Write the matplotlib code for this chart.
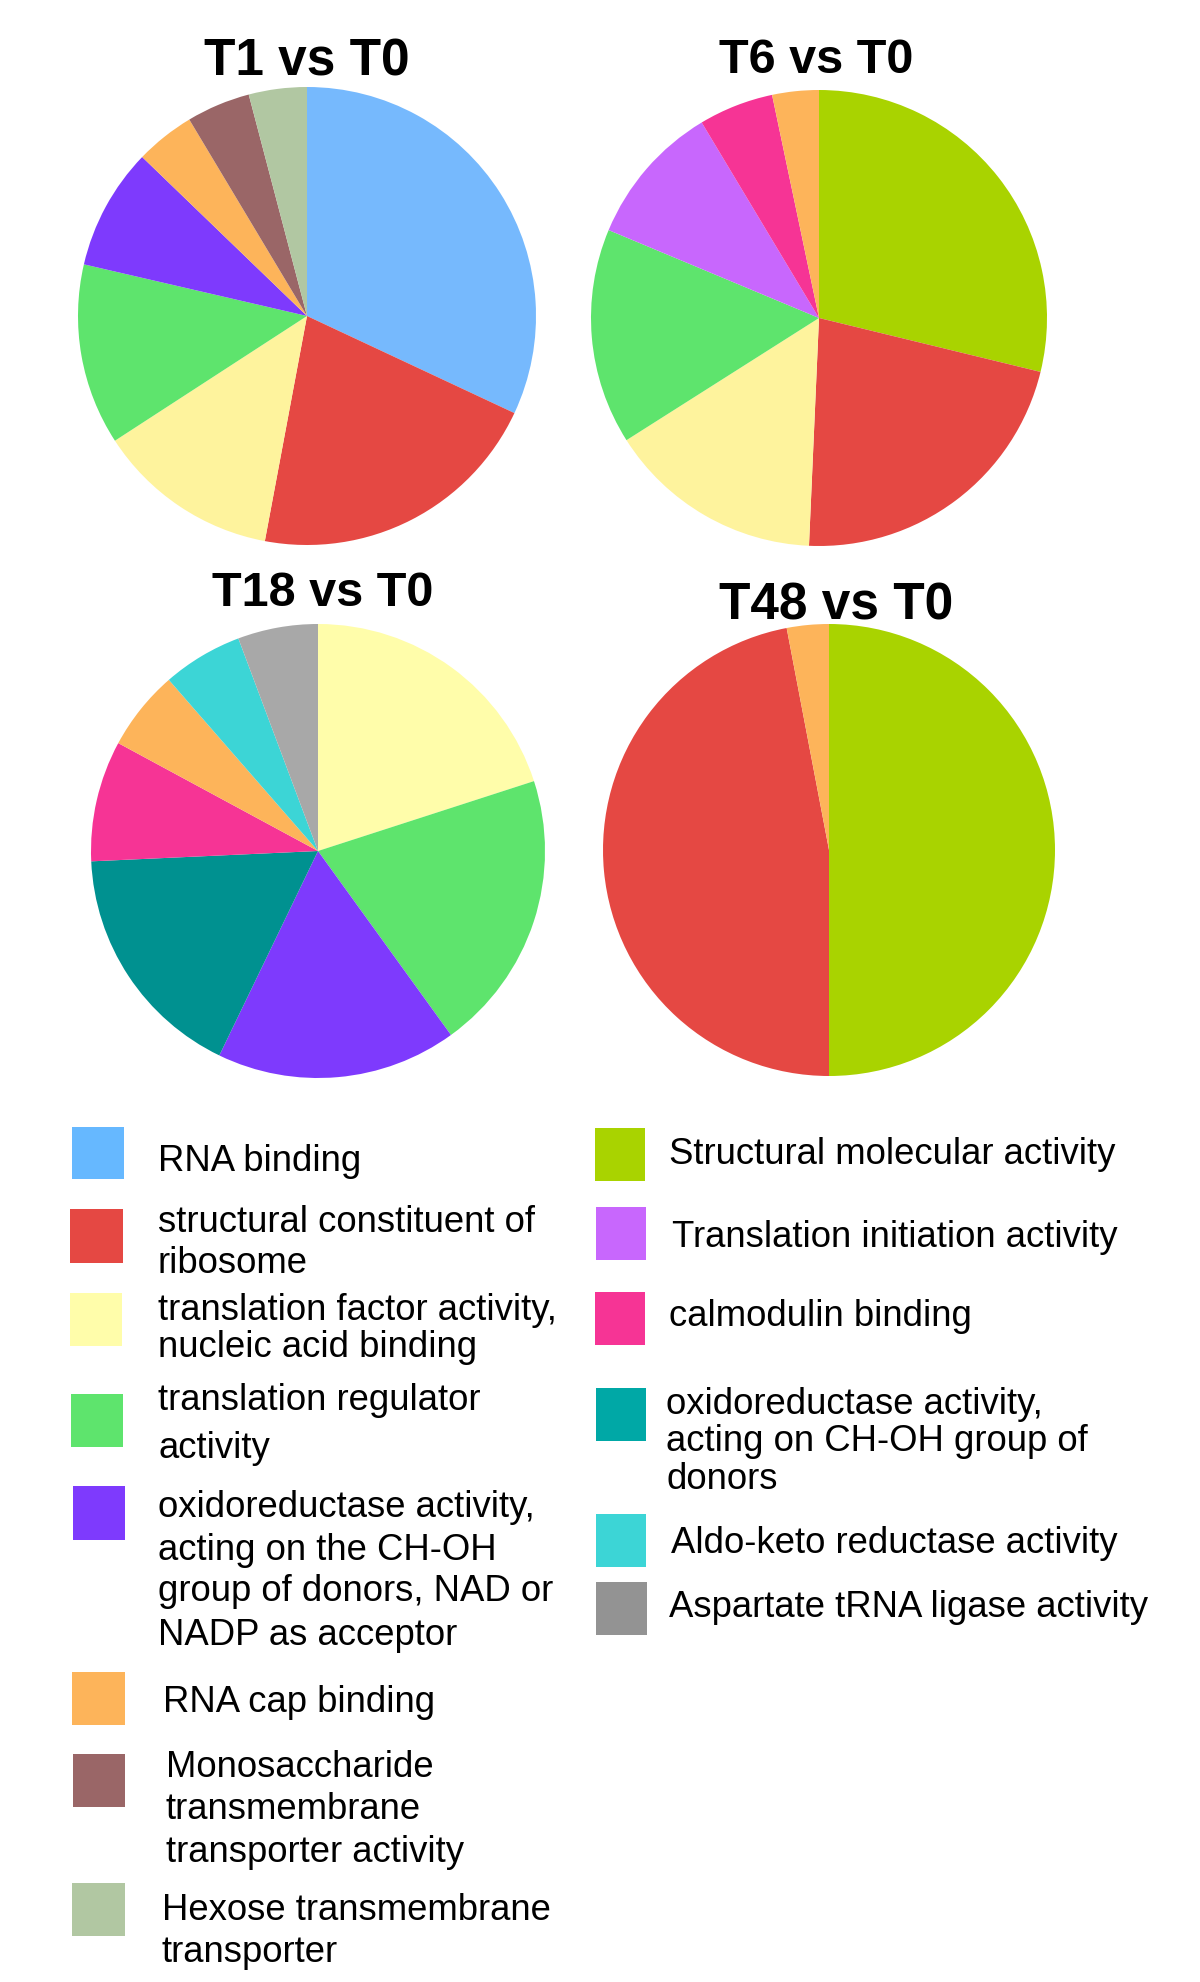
import matplotlib.pyplot as plt
from matplotlib.patches import Rectangle

plt.rcParams['font.family'] = ['Liberation Sans', 'DejaVu Sans']

# GO molecular function categories (share of DEGs per comparison)
t1_cats = ['RNA binding', 'structural constituent of ribosome',
           'translation factor activity, nucleic acid binding',
           'translation regulator activity', 'oxidoreductase NAD',
           'RNA cap binding', 'Monosaccharide transporter', 'Hexose transporter']
t1_vals = [32.0, 21.0, 12.9, 12.8, 8.6, 4.2, 4.5, 4.1]

t6_cats = ['Structural molecular activity', 'structural constituent of ribosome',
           'translation factor activity, nucleic acid binding',
           'translation regulator activity', 'Translation initiation activity',
           'calmodulin binding', 'RNA cap binding']
t6_vals = [28.8, 21.9, 15.3, 15.3, 10.1, 5.3, 3.3]

t18_cats = ['translation factor activity, nucleic acid binding',
            'translation regulator activity', 'oxidoreductase NAD',
            'oxidoreductase CH-OH', 'calmodulin binding', 'RNA cap binding',
            'Aldo-keto reductase activity', 'Aspartate tRNA ligase activity']
t18_vals = [20.0, 20.0, 17.1, 17.1, 8.6, 5.7, 5.7, 5.7]

t48_cats = ['Structural molecular activity', 'structural constituent of ribosome',
            'RNA cap binding']
t48_vals = [50.0, 47.0, 3.0]

titles = ['T1 vs T0', 'T6 vs T0', 'T18 vs T0', 'T48 vs T0']

colors = {
    'RNA binding': '#76B9FD',
    'structural constituent of ribosome': '#E54843',
    'translation factor activity, nucleic acid binding': '#FEF39D',
    'translation regulator activity': '#5EE46D',
    'oxidoreductase NAD': '#7E3AFD',
    'RNA cap binding': '#FDB45A',
    'Monosaccharide transporter': '#9A6667',
    'Hexose transporter': '#B1C7A2',
    'Structural molecular activity': '#A9D300',
    'Translation initiation activity': '#C867FD',
    'calmodulin binding': '#F63495',
    'oxidoreductase CH-OH': '#009190',
    'Aldo-keto reductase activity': '#3CD5D6',
    'Aspartate tRNA ligase activity': '#A8A8A8',
}
# the T18 pie and the legend use slightly different shades for a few entries
t18_override = {'translation factor activity, nucleic acid binding': '#FFFDAA'}
legend_override = {'translation factor activity, nucleic acid binding': '#FFFDAA',
                   'RNA binding': '#66B8FF',
                   'oxidoreductase CH-OH': '#00A8A6',
                   'Aspartate tRNA ligase activity': '#939393'}

legend_left = ['RNA binding', 'structural constituent of ribosome',
               'translation factor activity, nucleic acid binding',
               'translation regulator activity', 'oxidoreductase NAD',
               'RNA cap binding', 'Monosaccharide transporter', 'Hexose transporter']
legend_right = ['Structural molecular activity', 'Translation initiation activity',
                'calmodulin binding', 'oxidoreductase CH-OH',
                'Aldo-keto reductase activity', 'Aspartate tRNA ligase activity']
legend_text = {
    'RNA binding': ['RNA binding'],
    'structural constituent of ribosome': ['structural constituent of', 'ribosome'],
    'translation factor activity, nucleic acid binding': ['translation factor activity,', 'nucleic acid binding'],
    'translation regulator activity': ['translation regulator', 'activity'],
    'oxidoreductase NAD': ['oxidoreductase activity,', 'acting on the CH-OH',
                           'group of donors, NAD or', 'NADP as acceptor'],
    'RNA cap binding': ['RNA cap binding'],
    'Monosaccharide transporter': ['Monosaccharide', 'transmembrane', 'transporter activity'],
    'Hexose transporter': ['Hexose transmembrane', 'transporter'],
    'Structural molecular activity': ['Structural molecular activity'],
    'Translation initiation activity': ['Translation initiation activity'],
    'calmodulin binding': ['calmodulin binding'],
    'oxidoreductase CH-OH': ['oxidoreductase activity,', 'acting on CH-OH group of', 'donors'],
    'Aldo-keto reductase activity': ['Aldo-keto reductase activity'],
    'Aspartate tRNA ligase activity': ['Aspartate tRNA ligase activity'],
}

W, H = 1200, 1982
fig = plt.figure(figsize=(W / 100, H / 100), dpi=100)

# pie placement in pixels: centre x, centre y, radius
pie_boxes = [(307, 316, 229), (819, 318, 228), (318, 851, 227), (829, 850, 226)]
title_pos = [(307, 76, 37), (816, 73, 35), (323, 606, 35), (836, 620, 37)]

pies = [(t1_cats, t1_vals, {}), (t6_cats, t6_vals, {}),
        (t18_cats, t18_vals, t18_override), (t48_cats, t48_vals, {})]

for (cats, vals, over), (cx, cy, r) in zip(pies, pie_boxes):
    ax = fig.add_axes([(cx - r) / W, 1 - (cy + r) / H, 2 * r / W, 2 * r / H])
    ax.pie(vals, colors=[over.get(c, colors[c]) for c in cats], startangle=90,
           counterclock=False, radius=1, wedgeprops={'linewidth': 0})
    ax.set_xlim(-1, 1)
    ax.set_ylim(-1, 1)
    ax.axis('off')

for t, (x, y, fs) in zip(titles, title_pos):
    fig.text(x / W, 1 - y / H, t, ha='center', va='baseline',
             fontsize=fs, fontweight='bold')

# legend drawn on an overlay in pixel coordinates
lg = fig.add_axes([0, 0, 1, 1])
lg.set_xlim(0, W)
lg.set_ylim(H, 0)
lg.axis('off')
lg.patch.set_alpha(0)

# (patch x, patch top, patch w, patch h, text x, baselines)
left_layout = [
    (72, 1127, 52, 52, 158, [1171]),
    (70, 1209, 53, 54, 158, [1232, 1273]),
    (70, 1293, 52, 53, 158, [1320, 1357]),
    (71, 1394, 52, 53, 158, [1410, 1458]),
    (73, 1486, 52, 54, 158, [1517, 1560, 1601, 1645]),
    (72, 1672, 53, 53, 163, [1712]),
    (73, 1754, 52, 53, 166, [1777, 1819, 1862]),
    (72, 1883, 53, 53, 162, [1920, 1962]),
]
right_layout = [
    (595, 1128, 50, 53, 669, [1164]),
    (596, 1207, 50, 53, 672, [1247]),
    (595, 1292, 50, 53, 669, [1326]),
    (596, 1388, 50, 53, 666, [1414, 1451, 1489]),
    (596, 1514, 50, 53, 671, [1553]),
    (596, 1582, 51, 53, 669, [1617]),
]

for cats, layout in [(legend_left, left_layout), (legend_right, right_layout)]:
    for c, (px, py, pw, ph, tx, bases) in zip(cats, layout):
        lg.add_patch(Rectangle((px, py), pw, ph, color=legend_override.get(c, colors[c]), lw=0))
        for line, b in zip(legend_text[c], bases):
            lg.text(tx, b, line, ha='left', va='baseline', fontsize=26.3, color='black')

fig.savefig('out.png', dpi=100, facecolor='white')
